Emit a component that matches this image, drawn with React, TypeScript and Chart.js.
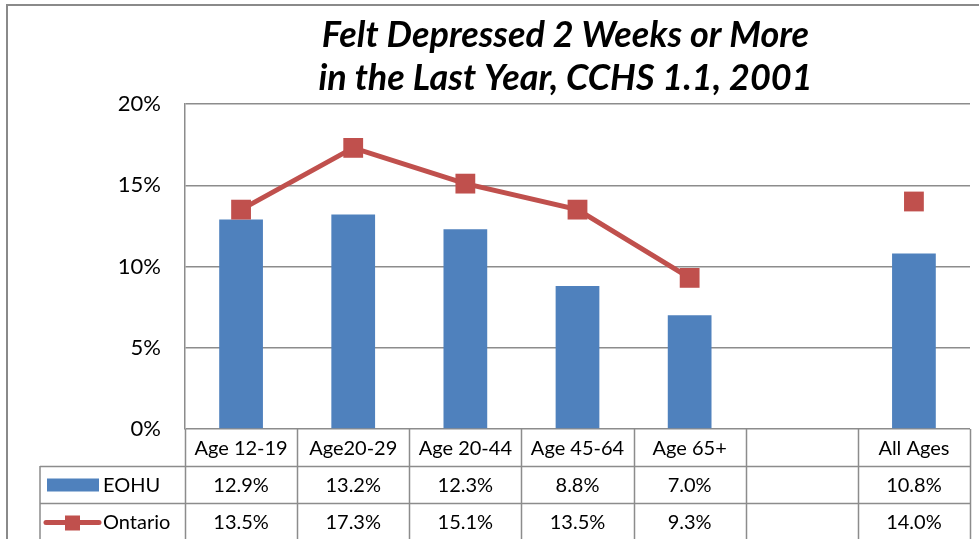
import React, { useEffect, useRef } from "react";
import { Chart, registerables } from "chart.js";

Chart.register(...registerables);

const categories = ["Age 12-19", "Age20-29", "Age 20-44", "Age 45-64", "Age 65+", "", "All Ages"];
const eohuValues: (number | null)[] = [12.9, 13.2, 12.3, 8.8, 7.0, null, 10.8];
const ontarioValues: (number | null)[] = [13.5, 17.3, 15.1, 13.5, 9.3, null, 14.0];
const eohuLabels = ["12.9%", "13.2%", "12.3%", "8.8%", "7.0%", "", "10.8%"];
const ontarioLabels = ["13.5%", "17.3%", "15.1%", "13.5%", "9.3%", "", "14.0%"];
const titleLines = ["Felt Depressed 2 Weeks or More", "in the Last Year, CCHS 1.1, 2001"];
const seriesNames = ["EOHU", "Ontario"];

const BLUE = "#4F81BD";
const RED = "#C0504D";
const GRID = "#8c8c8c";
const FONT = "Lato, 'Open Sans', sans-serif";

const tablePlugin = {
  id: "tablePlugin",
  afterDraw(chart: any) {
    const ctx = chart.ctx as CanvasRenderingContext2D;
    const area = chart.chartArea;
    const xs = chart.scales.x;
    const n = categories.length;
    const colW = (area.right - area.left) / n;
    const rowH = 37;
    const legendLeft = 40;
    const y0 = area.bottom;
    ctx.save();

    // outer frame
    ctx.strokeStyle = "#8a8a8a";
    ctx.lineWidth = 2;
    ctx.beginPath();
    ctx.moveTo(7, chart.height + 2);
    ctx.lineTo(7, 5);
    ctx.lineTo(chart.width + 2, 5);
    ctx.stroke();

    // title
    ctx.fillStyle = "#000";
    ctx.font = `italic bold 36px ${FONT}`;
    ctx.textAlign = "center";
    ctx.textBaseline = "middle";
    const tx = (area.left + area.right) / 2 - 12;
    ctx.fillText(titleLines[0], tx, 35);
    ctx.fillText(titleLines[1], tx, 78);

    // table grid
    ctx.strokeStyle = GRID;
    ctx.lineWidth = 1.5;
    ctx.beginPath();
    for (let i = 0; i <= n; i++) {
      const x = Math.round(area.left + colW * i) + 0.5;
      ctx.moveTo(x, y0);
      ctx.lineTo(x, y0 + rowH * 3 + 5);
    }
    ctx.moveTo(legendLeft, y0 + rowH);
    ctx.lineTo(legendLeft, y0 + rowH * 3 + 5);
    ctx.moveTo(legendLeft, y0 + rowH + 0.5);
    ctx.lineTo(area.right, y0 + rowH + 0.5);
    ctx.moveTo(legendLeft, y0 + rowH * 2 + 0.5);
    ctx.lineTo(area.right, y0 + rowH * 2 + 0.5);
    ctx.stroke();

    // text
    ctx.fillStyle = "#000";
    ctx.font = `20px ${FONT}`;
    ctx.textAlign = "center";
    ctx.textBaseline = "middle";
    for (let i = 0; i < n; i++) {
      const cx = xs.getPixelForValue(i);
      ctx.fillText(categories[i], cx, y0 + rowH * 0.5 + 1);
      ctx.fillText(eohuLabels[i], cx, y0 + rowH * 1.5 + 1);
      ctx.fillText(ontarioLabels[i], cx, y0 + rowH * 2.5 + 1);
    }

    // legend keys
    const r1 = y0 + rowH * 1.5;
    const r2 = y0 + rowH * 2.5;
    ctx.fillStyle = BLUE;
    ctx.fillRect(47, r1 - 6, 52, 13);
    ctx.strokeStyle = RED;
    ctx.lineWidth = 5;
    ctx.lineCap = "round";
    ctx.beginPath();
    ctx.moveTo(46, r2 + 1);
    ctx.lineTo(99, r2 + 1);
    ctx.stroke();
    ctx.fillStyle = RED;
    ctx.fillRect(65, r2 - 6, 15, 15);
    ctx.fillStyle = "#000";
    ctx.textAlign = "left";
    ctx.fillText(seriesNames[0], 103, r1 + 1);
    ctx.fillText(seriesNames[1], 103, r2 + 1);
    ctx.restore();
  },
};

export default function App() {
  const ref = useRef<HTMLCanvasElement>(null);
  useEffect(() => {
    document.body.style.margin = "0";
    const chart = new Chart(ref.current!, {
      data: {
        labels: categories,
        datasets: [
          {
            type: "line",
            label: seriesNames[1],
            data: ontarioValues,
            borderColor: RED,
            backgroundColor: RED,
            borderWidth: 5,
            pointStyle: "rect",
            pointRadius: 14,
            pointBorderWidth: 0,
            spanGaps: false,
            order: 0,
          },
          {
            type: "bar",
            label: seriesNames[0],
            data: eohuValues,
            backgroundColor: BLUE,
            barPercentage: 0.39,
            categoryPercentage: 1,
            order: 1,
          },
        ],
      } as any,
      options: {
        responsive: false,
        animation: false,
        layout: { autoPadding: false, padding: { left: 0, top: 104, right: 9, bottom: 110 } },
        plugins: { legend: { display: false }, title: { display: false }, tooltip: { enabled: false } },
        scales: {
          x: { type: "category", display: false, offset: true },
          y: {
            min: 0,
            max: 20,
            ticks: {
              stepSize: 5,
              padding: 24,
              color: "#000",
              font: { family: FONT, size: 22 },
              callback: (v: any) => `${v}%`,
            },
            grid: { color: GRID, lineWidth: 1.5, drawTicks: false },
            border: { display: true, color: GRID, width: 1.5 },
            afterFit: (s: any) => {
              s.width = 185;
            },
          },
        },
      } as any,
      plugins: [tablePlugin],
    });
    return () => chart.destroy();
  }, []);
  return <canvas ref={ref} width={979} height={539} style={{ display: "block" }} />;
}
